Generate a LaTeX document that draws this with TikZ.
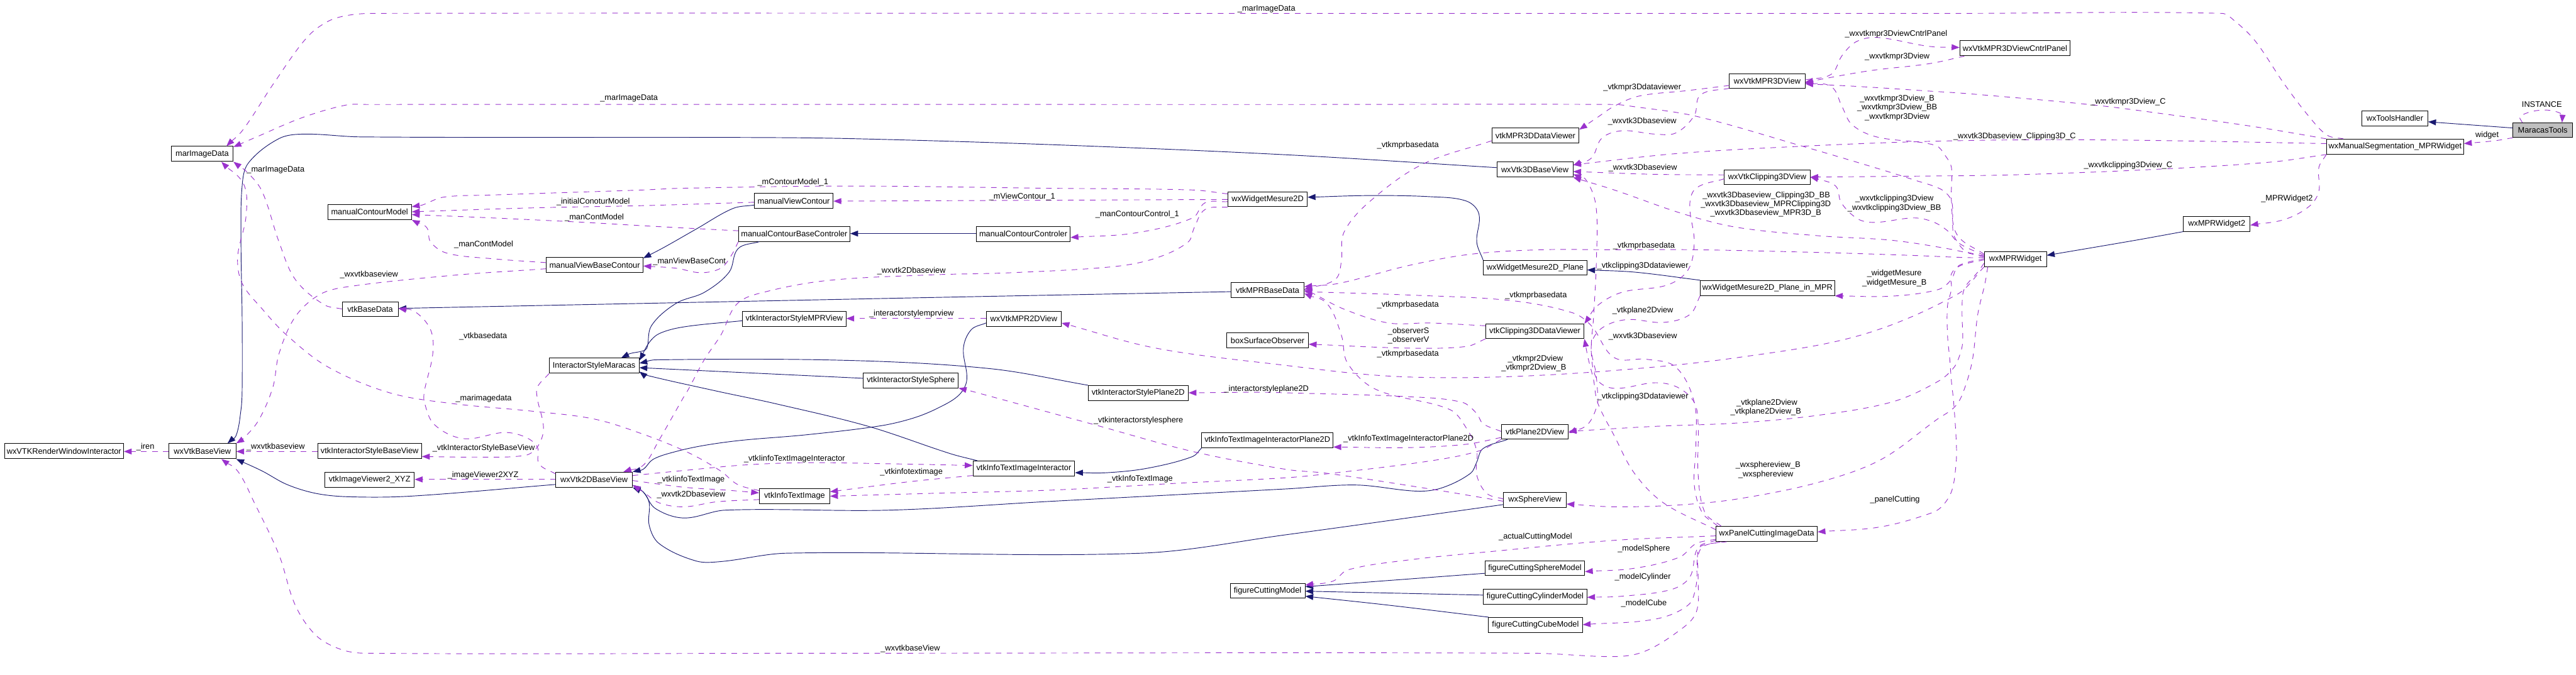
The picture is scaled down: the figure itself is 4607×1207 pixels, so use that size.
\documentclass[tikz,border=0pt]{standalone}
\usepackage{fontspec}
\setmainfont{Liberation Sans}
\usetikzlibrary{arrows.meta,calc}
\definecolor{orch}{HTML}{9A32CD}
\definecolor{navy}{HTML}{191970}
\newcount\labc
\tikzset{
  x=0.01cm,y=-0.01cm,
  box/.style={draw=black,line width=0.3pt,fill=white,inner sep=0pt,font=\fontsize{4.09}{4.9}\selectfont},
  lab/.style={inner sep=0pt,font=\fontsize{4.09}{4.9}\selectfont},
  usee/.style={orch,line width=0.3pt,dash pattern=on 2.8pt off 2.8pt,-{Triangle[length=4pt,width=3pt]}},
  inh/.style={navy,line width=0.3pt,-{Triangle[length=4pt,width=3pt]}}
}
\newcommand\Nd[7][]{%
  \pgfmathsetmacro\nw{(#5-#3)*0.01}\pgfmathsetmacro\nh{(#6-#4)*0.01}%
  \pgfmathsetmacro\nx{(#3+#5)/2}\pgfmathsetmacro\ny{(#4+#6)/2}%
  \node[box,minimum width=\nw cm,minimum height=\nh cm,#1] (#2) at (\nx,\ny) {#7};}
\newcommand\Lb[3]{\global\advance\labc by 1 \node[lab] (lab\the\labc) at (#1,#2) {#3};}
\newcommand\Ed[2]{%
  \foreach \ptt [count=\ci] in {#2} {\path \ptt coordinate (P\ci); \xdef\En{\ci}}%
  \coordinate (P0) at (P1);%
  \pgfmathtruncatemacro\Em{\En+1}%
  \pgfmathtruncatemacro\El{\En-1}%
  \coordinate (P\Em) at (P\En);%
  \gdef\Epth{}%
  \foreach \cj in {1,...,\El} {%
    \pgfmathtruncatemacro\cn{\cj+1}%
    \pgfmathtruncatemacro\cp{\cj-1}%
    \pgfmathtruncatemacro\cq{\cj+2}%
    \pgfpointdiff{\pgfpointanchor{P\cj}{center}}{\pgfpointanchor{P\cn}{center}}%
    \pgfgetlastxy\ddx\ddy
    \pgfmathsetmacro\EDv{0.33*veclen(\ddx,\ddy)}%
    \coordinate (Ua) at ($(P\cp)!\EDv pt!(P\cn)$);%
    \coordinate (Ca\cj) at ($(P\cj)+(Ua)-(P\cp)$);%
    \coordinate (Ub) at ($(P\cj)!\EDv pt!(P\cq)$);%
    \coordinate (Cb\cj) at ($(P\cn)-(Ub)+(P\cj)$);%
    \xdef\Epth{\Epth .. controls (Ca\cj) and (Cb\cj) .. (P\cn) }%
  }%
  \draw[#1] (P1) \Epth;%
}
\begin{document}
\begin{tikzpicture}
\useasboundingbox (0,0) rectangle (4607,1207);
% ---- nodes
\Nd[fill={rgb,255:red,191;green,191;blue,191}]{MT}{4494}{220}{4601}{246}{MaracasTools}
\Nd{TH}{4224}{198}{4342}{225}{wxToolsHandler}
\Nd{MS}{4161}{249}{4406}{276}{wxManualSegmentation\_MPRWidget}
\Nd{PW2}{3905}{388}{4024}{414}{wxMPRWidget2}
\Nd{PW}{3549}{450}{3660}{477}{wxMPRWidget}
\Nd{V3D}{3093}{132}{3228}{158}{wxVtkMPR3DView}
\Nd{CP}{3505}{73}{3702}{100}{wxVtkMPR3DViewCntrlPanel}
\Nd{DV3}{2668}{229}{2824}{256}{vtkMPR3DDataViewer}
\Nd{B3D}{2677}{290}{2813}{317}{wxVtk3DBaseView}
\Nd{C3V}{3084}{304}{3237}{330}{wxVtkClipping3DView}
\Nd{WMP}{2653}{466}{2838}{492}{wxWidgetMesure2D\_Plane}
\Nd{WMM}{3041}{502}{3281}{529}{wxWidgetMesure2D\_Plane\_in\_MPR}
\Nd{CDV}{2657}{580}{2833}{606}{vtkClipping3DDataViewer}
\Nd{P2V}{2685}{760}{2805}{786}{vtkPlane2DView}
\Nd{SV}{2689}{881}{2801}{908}{wxSphereView}
\Nd{PC}{3069}{942}{3250}{969}{wxPanelCuttingImageData}
\Nd{FS}{2656}{1004}{2834}{1030}{figureCuttingSphereModel}
\Nd{FY}{2653}{1054}{2838}{1081}{figureCuttingCylinderModel}
\Nd{FU}{2662}{1105}{2830}{1132}{figureCuttingCubeModel}
\Nd{FM}{2200}{1044}{2334}{1070}{figureCuttingModel}
\Nd{WM}{2196}{344}{2338}{370}{wxWidgetMesure2D}
\Nd{MBD}{2202}{506}{2332}{533}{vtkMPRBaseData}
\Nd{BSO}{2194}{596}{2340}{622}{boxSurfaceObserver}
\Nd{ISP}{1946}{690}{2125}{717}{vtkInteractorStylePlane2D}
\Nd{IIP}{2149}{774}{2384}{801}{vtkInfoTextImageInteractorPlane2D}
\Nd{III}{1740}{825}{1922}{852}{vtkInfoTextImageInteractor}
\Nd{ITI}{1358}{874}{1484}{901}{vtkInfoTextImage}
\Nd{SPH}{1544}{668}{1714}{694}{vtkInteractorStyleSphere}
\Nd{MV2}{1764}{557}{1898}{584}{wxVtkMPR2DView}
\Nd{IMV}{1328}{557}{1513}{584}{vtkInteractorStyleMPRView}
\Nd{BCT}{1321}{405}{1520}{432}{manualContourBaseControler}
\Nd{CCT}{1746}{405}{1914}{432}{manualContourControler}
\Nd{VCO}{1349}{346}{1490}{373}{manualViewContour}
\Nd{VBC}{977}{461}{1150}{488}{manualViewBaseContour}
\Nd{ICM}{586}{366}{736}{393}{manualContourModel}
\Nd{BD}{612}{540}{712}{566}{vtkBaseData}
\Nd{ISM}{982}{641}{1143}{668}{InteractorStyleMaracas}
\Nd{MID}{306}{262}{417}{289}{marImageData}
\Nd{RW}{8}{794}{221}{821}{wxVTKRenderWindowInteractor}
\Nd{BV}{302}{794}{422}{821}{wxVtkBaseView}
\Nd{ISB}{568}{794}{754}{821}{vtkInteractorStyleBaseView}
\Nd{IV2}{581}{845}{741}{872}{vtkImageViewer2\_XYZ}
\Nd{B2D}{994}{845}{1131}{872}{wxVtk2DBaseView}
% ---- inheritance edges
\Ed{inh}{(MT.west |- 0,229),(TH.east |- 0,218)}
\Ed{inh}{(PW2.south west),(3819,430),(PW.east |- 0,457)}
\Ed{inh}{(B3D.west |- 0,300),(2300,277),(1883,259),(1517,248),(1319,246),(645,245),(543,240),(499,248),(444,292),(433,333),(431,433),(433,567),(433,700),(431,733),(422,780),(BV.north -| 407,0)}
\Ed{inh}{(B2D.west |- 0,867),(733,888),(623,889),(565,883),(513,867),(469,843),(BV.south east)}
\Ed{inh}{(MBD.west |- 0,522),(1737,531),(1150,543),(807,550),(BD.east |- 0,552)}
\Ed{inh}{(CCT.west |- 0,418),(BCT.east |- 0,418)}
\Ed{inh}{(VCO.west |- 0,367),(1311,373),(1245,410),(1187,443),(VBC.east |- 0,462)}
\Ed{inh}{(BCT.south -| 1358,0),(1320,445),(1304,487),(1260,523),(1209,543),(1165,583),(1157,623),(1150,628),(1126,633),(ISM.north -| 1111,0)}
\Ed{inh}{(IMV.west |- 0,574),(1223,585),(1179,597),(1161,613),(ISM.east |- 0,645)}
\Ed{inh}{(ISP.north -| 1946,0),(1773,660),(1517,645),(1172,644),(ISM.east |- 0,650)}
\Ed{inh}{(SPH.west |- 0,677),(ISM.east |- 0,658)}
\Ed{inh}{(III.north -| 1748,0),(1700,812),(1553,763),(1385,722),(1282,700),(1150,670),(ISM.east |- 0,665)}
\Ed{inh}{(IIP.south -| 2149,0),(2133,817),(2052,838),(1979,846),(III.east |- 0,846)}
\Ed{inh}{(MV2.west |- 0,578),(1737,590),(1723,623),(1729,680),(1715,707),(1678,730),(1634,748),(1575,762),(1443,778),(1326,788),(1260,797),(1209,808),(1168,822),(1150,840),(B2D.north east)}
\Ed{inh}{(P2V.south -| 2696,0),(2652,803),(2641,827),(2630,847),(2579,873),(2535,879),(2425,868),(2300,875),(1883,897),(1590,913),(1297,913),(1223,927),(1172,910),(1150,880),(B2D.east |- 0,868)}
\Ed{inh}{(SV.west |- 0,903),(2300,957),(2041,990),(1407,990),(1289,1005),(1245,1004),(1179,973),(1161,940),(1161,900),(1150,880),(B2D.south east)}
\Ed{inh}{(WMP.north west),(2641,433),(2645,383),(2623,360),(2557,352),(2447,350),(WM.east |- 0,353)}
\Ed{inh}{(WMM.north west),(2923,487),(WMP.east |- 0,483)}
\Ed{inh}{(FS.west |- 0,1026),(FM.east |- 0,1050)}
\Ed{inh}{(FY.west |- 0,1065),(FM.east |- 0,1058)}
\Ed{inh}{(FU.north -| 2662,0),(2483,1083),(FM.east |- 0,1067)}
% ---- usage edges (top right)
\Ed{usee}{(MT.south -| 4494,0),(4461,252),(MS.east |- 0,257)}
\Ed{usee}{(MT.north -| 4511,0),(4507,208),(4547,197),(4583,205),(MT.north -| 4582,0)}
\Ed{usee}{(MS.north -| 4191,0),(4162,242),(4129,208),(4085,150),(4033,73),(3996,37),(3974,24),(3500,24),(2300,24),(670,24),(625,27),(587,38),(549,67),(491,147),(434,233),(MID.north -| 405,0)}
\Ed{usee}{(PW.west |- 0,458),(3533,455),(3513,448),(3495,423),(3492,403),(3492,370),(3487,353),(3470,338),(3423,322),(3363,303),(3228,263),(3033,208),(2916,190),(2887,187),(2300,187),(657,187),(619,188),(542,210),(459,245),(MID.east |- 0,263)}
\Ed{usee}{(MS.north west),(4040,228),(3893,207),(3745,188),(3524,168),(3450,163),(3327,155),(V3D.east |- 0,150)}
\Ed{usee}{(MS.west |- 0,257),(3893,252),(3671,250),(3450,253),(3217,262),(2997,275),(B3D.east |- 0,295)}
\Ed{usee}{(MS.south west),(4062,290),(3856,303),(3598,313),(3450,315),(C3V.east |- 0,317)}
\Ed{usee}{(MS.south west),(4147,300),(4147,343),(4129,370),(4085,393),(PW2.east |- 0,403)}
\Ed{usee}{(CP.south -| 3513,0),(3450,114),(3341,127),(V3D.east |- 0,147)}
\Ed{usee}{(V3D.east |- 0,143),(3275,133),(3294,100),(3319,75),(3356,67),(3450,83),(CP.west |- 0,85)}
\Ed{usee}{(PW.west |- 0,455),(3500,420),(3490,360),(3490,300),(3480,280),(3461,260),(3356,245),(3312,223),(3294,190),(3275,155),(V3D.east |- 0,148)}
\Ed{usee}{(V3D.west |- 0,153),(3019,162),(2931,172),(2887,190),(2857,210),(DV3.east |- 0,232)}
\Ed{usee}{(V3D.west |- 0,158),(3041,170),(3030,207),(2997,238),(2960,240),(2901,234),(2865,247),(2846,283),(B3D.east |- 0,296)}
\Ed{usee}{(C3V.west |- 0,313),(2960,312),(B3D.east |- 0,307)}
\Ed{usee}{(PW.west |- 0,460),(3533,456),(3483,445),(3383,430),(3253,422),(3107,407),(3011,383),(2887,340),(B3D.south east)}
\Ed{usee}{(PW.west |- 0,457),(3503,435),(3483,413),(3457,397),(3423,390),(3353,398),(3323,392),(3293,363),(3283,333),(3250,320),(C3V.east |- 0,317)}
\Ed{usee}{(C3V.west |- 0,320),(3033,337),(3022,367),(3030,433),(3019,483),(2982,510),(2901,523),(2857,547),(CDV.north east)}
\Ed{usee}{(PW.west |- 0,461),(3517,461),(3417,457),(3260,452),(3033,447),(2887,447),(2755,447),(2630,455),(2520,475),(2395,507),(MBD.east |- 0,513)}
\Ed{usee}{(PW.west |- 0,463),(3517,470),(3500,478),(3490,500),(3467,518),(3383,530),(WMM.south east)}
\Ed{usee}{(PW.south west),(3500,527),(3327,600),(3107,640),(2887,663),(2667,675),(2483,673),(2300,654),(2067,623),(MV2.east |- 0,578)}
\Ed{usee}{(PW.west |- 0,471),(3537,487),(3513,517),(3509,553),(3510,613),(3505,635),(3495,657),(3467,682),(3385,719),(3253,743),(3107,757),(2960,763),(P2V.east |- 0,772)}
\Ed{usee}{(PW.south -| 3555,0),(3550,507),(3537,563),(3527,647),(3509,707),(3494,730),(3465,750),(3363,823),(3253,863),(3107,893),(2997,904),(2887,907),(SV.east |- 0,902)}
\Ed{usee}{(PW.west |- 0,465),(3507,475),(3490,490),(3490,517),(3483,547),(3483,600),(3487,643),(3490,683),(3494,720),(3499,800),(3498,833),(3491,877),(3476,903),(3457,917),(3363,943),(PC.east |- 0,952)}
% ---- lower right
\Ed{usee}{(WMM.south west),(3022,563),(2975,577),(2909,572),(2865,587),(2846,617),(2854,667),(2857,700),(2857,723),(2839,760),(P2V.east |- 0,775)}
\Ed{usee}{(CDV.west |- 0,583),(2557,578),(2483,578),(2403,553),(2344,523),(MBD.east |- 0,519)}
\Ed{usee}{(CDV.south west),(2623,620),(2520,623),(BSO.east |- 0,616)}
\Ed{usee}{(DV3.west |- 0,252),(2542,295),(2447,363),(2403,417),(2399,467),(2388,500),(MBD.east |- 0,518)}
\Ed{usee}{(SV.west |- 0,893),(2659,883),(2641,850),(2641,807),(2623,767),(2593,733),(2461,697),(2410,650),(2399,600),(2373,543),(MBD.east |- 0,525)}
\Ed{usee}{(PC.north -| 3072,0),(3044,917),(3030,867),(3033,800),(3030,720),(2997,657),(2945,643),(2887,640),(2846,583),(2813,560),(2703,538),(2520,528),(MBD.east |- 0,522)}
\Ed{usee}{(PC.north -| 3078,0),(3049,917),(3037,850),(3037,760),(3030,720),(3000,693),(2960,685),(2887,695),(2857,680),(2846,633),(2850,567),(2855,467),(2854,367),(2835,320),(B3D.east |- 0,312)}
\Ed{usee}{(PC.west |- 0,948),(2975,900),(2923,847),(2887,780),(2857,720),(2850,680),(2840,640),(CDV.south east)}
\Ed{usee}{(P2V.west |- 0,783),(2623,795),(2520,801),(IIP.east |- 0,800)}
\Ed{usee}{(P2V.west |- 0,772),(2652,758),(2641,740),(2615,720),(2520,710),(2300,703),(2250,702),(ISP.east |- 0,703)}
\Ed{usee}{(P2V.south west),(2645,807),(2557,825),(2373,848),(2300,855),(2103,865),(1883,877),(1663,883),(ITI.east |- 0,888)}
\Ed{usee}{(SV.west |- 0,897),(2557,875),(2373,847),(2300,840),(2133,808),(1957,760),(1737,700),(SPH.south east)}
\Ed{usee}{(III.west |- 0,851),(1627,862),(ITI.east |- 0,880)}
\Ed{usee}{(PC.west |- 0,959),(2887,967),(2667,987),(2520,1002),(2410,1020),(2384,1040),(FM.east |- 0,1047)}
\Ed{usee}{(PC.west |- 0,965),(3033,973),(3004,997),(2923,1017),(FS.east |- 0,1023)}
\Ed{usee}{(PC.west |- 0,967),(3037,980),(3022,1033),(2989,1055),(2901,1067),(FY.east |- 0,1069)}
\Ed{usee}{(PC.south -| 3077,0),(3041,983),(3033,1050),(3019,1083),(2960,1108),(FU.east |- 0,1118)}
\Ed{usee}{(PC.south -| 3088,0),(3048,975),(3037,983),(3037,1033),(3033,1097),(2997,1133),(2938,1167),(2887,1175),(2740,1169),(1500,1169),(653,1169),(609,1162),(565,1137),(528,1083),(499,993),(455,900),(425,843),(BV.south -| 396,0)}
% ---- centre and left
\Ed{usee}{(WM.west |- 0,347),(2133,340),(1883,337),(1517,333),(1216,337),(1150,340),(880,349),(792,353),(755,367),(ICM.east |- 0,370)}
\Ed{usee}{(WM.west |- 0,357),(VCO.east |- 0,360)}
\Ed{usee}{(WM.west |- 0,361),(2155,363),(2133,390),(2030,417),(CCT.east |- 0,425)}
\Ed{usee}{(WM.south west),(2155,375),(2136,407),(2125,433),(2067,462),(1993,477),(1810,488),(1663,492),(1480,502),(1370,522),(1319,543),(1289,600),(1260,643),(1231,697),(1223,710),(1179,787),(1150,833),(B2D.north -| 1115,0)}
\Ed{usee}{(VCO.west |- 0,362),(1150,368),(953,372),(ICM.east |- 0,379)}
\Ed{usee}{(BCT.west |- 0,413),(1223,408),(1150,404),(1027,397),(880,390),(ICM.east |- 0,384)}
\Ed{usee}{(BCT.south west),(1308,457),(1289,480),(1253,488),(1209,480),(VBC.east |- 0,476)}
\Ed{usee}{(VBC.west |- 0,470),(880,463),(799,453),(770,433),(763,407),(ICM.south east)}
\Ed{usee}{(VBC.west |- 0,481),(807,493),(623,513),(572,527),(528,567),(499,633),(488,693),(462,753),(433,787),(BV.north east)}
\Ed{usee}{(BD.west |- 0,553),(579,545),(528,500),(499,433),(469,343),(444,310),(MID.south east)}
\Ed{usee}{(ITI.west |- 0,878),(1319,867),(1289,843),(1231,810),(1150,777),(1063,750),(953,736),(807,722),(697,703),(587,657),(513,600),(469,553),(433,507),(425,460),(440,387),(436,330),(MID.south -| 396,0)}
\Ed{usee}{(B2D.west |- 0,848),(964,830),(961,800),(939,782),(902,774),(829,785),(777,760),(759,720),(759,700),(774,633),(770,590),(741,557),(BD.east |- 0,552)}
\Ed{usee}{(ISM.south -| 982,0),(961,693),(961,713),(972,767),(961,800),(939,815),(843,818),(ISB.east |- 0,817)}
\Ed{usee}{(ISB.west |- 0,808),(BV.east |- 0,808)}
\Ed{usee}{(BV.west |- 0,808),(RW.east |- 0,808)}
\Ed{usee}{(B2D.west |- 0,858),(IV2.east |- 0,858)}
\Ed{usee}{(MV2.west |- 0,570),(IMV.east |- 0,570)}
\Ed{usee}{(B2D.east |- 0,860),(1223,872),(1297,877),(ITI.west |- 0,882)}
\Ed{usee}{(ITI.west |- 0,894),(1282,898),(1223,907),(1179,900),(1150,880),(B2D.east |- 0,868)}
\Ed{usee}{(B2D.east |- 0,851),(1223,842),(1333,832),(1443,828),(1590,830),(III.west |- 0,833)}
% ---- labels
\Lb{4448}{242}{widget}
\Lb{4546}{187}{INSTANCE}
\Lb{2265}{16}{\_marImageData}
\Lb{1125}{176}{\_marImageData}
\Lb{493}{304}{\_marImageData}
\Lb{865}{713}{\_marimagedata}
\Lb{3806}{182}{\_wxvtkmpr3Dview\_C}
\Lb{3603}{244}{\_wxvtk3Dbaseview\_Clipping3D\_C}
\Lb{3806}{296}{\_wxvtkclipping3Dview\_C}
\Lb{4090}{356}{\_MPRWidget2}
\Lb{3391}{61}{\_wxvtkmpr3DviewCntrlPanel}
\Lb{3393}{101}{\_wxvtkmpr3Dview}
\Lb{3393}{177}{\_wxvtkmpr3Dview\_B}
\Lb{3393}{193}{\_wxvtkmpr3Dview\_BB}
\Lb{3393}{209}{\_wxvtkmpr3Dview}
\Lb{2937}{157}{\_vtkmpr3Ddataviewer}
\Lb{2937}{217}{\_wxvtk3Dbaseview}
\Lb{2938}{301}{\_wxvtk3Dbaseview}
\Lb{2938}{602}{\_wxvtk3Dbaseview}
\Lb{2518}{260}{\_vtkmprbasedata}
\Lb{2940}{440}{\_vtkmprbasedata}
\Lb{2747}{529}{\_vtkmprbasedata}
\Lb{2518}{546}{\_vtkmprbasedata}
\Lb{2518}{634}{\_vtkmprbasedata}
\Lb{3159}{350}{\_wxvtk3Dbaseview\_Clipping3D\_BB}
\Lb{3158}{366}{\_wxvtk3Dbaseview\_MPRClipping3D}
\Lb{3158}{382}{\_wxvtk3Dbaseview\_MPR3D\_B}
\Lb{3388}{356}{\_wxvtkclipping3Dview}
\Lb{3388}{372}{\_wxvtkclipping3Dview\_BB}
\Lb{3388}{490}{\_widgetMesure}
\Lb{3388}{506}{\_widgetMesure\_B}
\Lb{2938}{476}{\_vtkclipping3Ddataviewer}
\Lb{2938}{710}{\_vtkclipping3Ddataviewer}
\Lb{2938}{556}{\_vtkplane2Dview}
\Lb{3160}{721}{\_vtkplane2Dview}
\Lb{3158}{737}{\_vtkplane2Dview\_B}
\Lb{2746}{642}{\_vtkmpr2Dview}
\Lb{2743}{658}{\_vtkmpr2Dview\_B}
\Lb{2519}{593}{\_observerS}
\Lb{2519}{609}{\_observerV}
\Lb{3162}{833}{\_wxsphereview\_B}
\Lb{3158}{849}{\_wxsphereview}
\Lb{3389}{894}{\_panelCutting}
\Lb{2519}{785}{\_vtkInfoTextImageInteractorPlane2D}
\Lb{2265}{696}{\_interactorstyleplane2D}
\Lb{2036}{753}{\_vtkinteractorstylesphere}
\Lb{2039}{857}{\_vtkInfoTextImage}
\Lb{1630}{845}{\_vtkinfotextimage}
\Lb{1421}{821}{\_vtkIinfoTextImageInteractor}
\Lb{1236}{858}{\_vtkIinfoTextImage}
\Lb{1236}{885}{\_wxvtk2Dbaseview}
\Lb{1630}{485}{\_wxvtk2Dbaseview}
\Lb{1630}{562}{\_interactorstylemprview}
\Lb{2746}{961}{\_actualCuttingModel}
\Lb{2940}{982}{\_modelSphere}
\Lb{2938}{1033}{\_modelCylinder}
\Lb{2940}{1080}{\_modelCube}
\Lb{1628}{1161}{\_wxvtkbaseView}
\Lb{1418}{326}{\_mContourModel\_1}
\Lb{1828}{352}{\_mViewContour\_1}
\Lb{2034}{384}{\_manContourControl\_1}
\Lb{1061}{361}{\_initialConoturModel}
\Lb{1063}{389}{\_manContModel}
\Lb{865}{438}{\_manContModel}
\Lb{1233}{468}{\_manViewBaseCont}
\Lb{660}{492}{\_wxvtkbaseview}
\Lb{864}{602}{\_vtkbasedata}
\Lb{865}{802}{\_vtkInteractorStyleBaseView}
\Lb{493}{800}{\_wxvtkbaseview}
\Lb{260}{800}{\_iren}
\Lb{864}{850}{\_imageViewer2XYZ}
\end{tikzpicture}
\end{document}
